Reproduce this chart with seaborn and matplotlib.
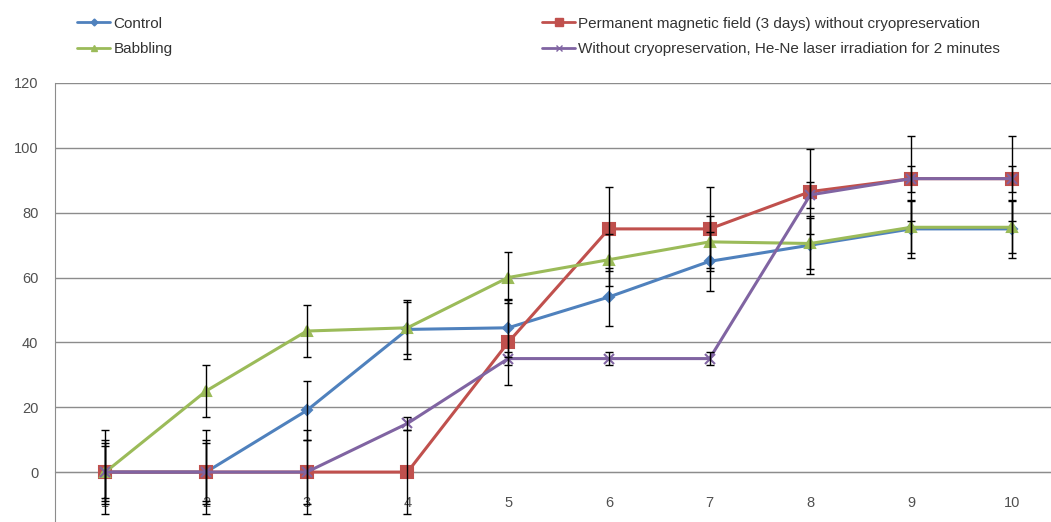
import numpy as np
import pandas as pd
import matplotlib.pyplot as plt
import seaborn as sns
from matplotlib.lines import Line2D

# Data
days = [1, 2, 3, 4, 5, 6, 7, 8, 9, 10]

control = [0, 0, 19, 44, 44.5, 54, 65, 70, 75, 75]
control_err = [9, 9, 9, 9, 9, 9, 9, 9, 9, 9]

magnetic = [0, 0, 0, 0, 40, 75, 75, 86.5, 90.5, 90.5]
magnetic_err = [13, 13, 13, 13, 13, 13, 13, 13, 13, 13]

babbling = [0, 25, 43.5, 44.5, 60, 65.5, 71, 70.5, 75.5, 75.5]
babbling_err = [8, 8, 8, 8, 8, 8, 8, 8, 8, 8]

laser = [0, 0, 0, 15, 35, 35, 35, 85.5, 90.5, 90.5]
laser_err = [10, 10, 10, 2, 2, 2, 2, 4, 4, 4]

labels = [
    "Control",
    "Permanent magnetic field (3 days) without cryopreservation",
    "Babbling",
    "Without cryopreservation, He-Ne laser irradiation for 2 minutes",
]

series = [
    (labels[0], control, control_err, "#4F81BD", "D", 5),
    (labels[1], magnetic, magnetic_err, "#C0504D", "s", 8),
    (labels[2], babbling, babbling_err, "#9BBB59", "^", 7),
    (labels[3], laser, laser_err, "#8064A2", "x", 7),
]

sns.set_style("white")
plt.rcParams["font.family"] = ["Liberation Sans", "DejaVu Sans"]

fig = plt.figure(figsize=(10.51, 5.22), dpi=100)
ax = fig.add_axes([55 / 1051, 0.0, 1 - 55 / 1051, (522 - 83) / 522])

for name, vals, errs, color, marker, ms in series:
    df = pd.DataFrame({"day": days, "value": vals})
    sns.lineplot(
        data=df, x="day", y="value", ax=ax,
        color=color, marker=marker, markersize=ms,
        markeredgecolor=color, markeredgewidth=1.5,
        linewidth=2.2, zorder=3,
    )
    ax.errorbar(
        days, vals, yerr=errs, fmt="none",
        ecolor="black", elinewidth=1, capsize=3, capthick=1, zorder=4,
    )

ax.set_xlim(0.5, 10.39)
ax.set_ylim(-15.4, 120)

ax.set_yticks(range(0, 121, 20))
ax.yaxis.grid(True, color="#8c8c8c", linewidth=1)
ax.xaxis.grid(False)

ax.set_xticks(days)
ax.set_xticklabels([str(d) for d in days])
ax.set_xticks(np.arange(1.5, 10.0, 1.0), minor=True)
ax.tick_params(axis="x", which="major", length=0, pad=17, labelsize=10.5, labelcolor="#505050")
ax.tick_params(axis="x", which="minor", length=4, width=1, color="#8c8c8c", direction="out")
ax.tick_params(axis="y", length=0, pad=12, labelsize=10.5, labelcolor="#505050")

ax.spines["bottom"].set_position(("data", 0))
ax.spines["bottom"].set_color("#8c8c8c")
ax.spines["left"].set_color("#8c8c8c")
ax.spines["top"].set_visible(False)
ax.spines["right"].set_visible(False)
ax.set_xlabel("")
ax.set_ylabel("")

handles = [
    Line2D([0], [0], color=c, marker=m, markersize=ms * 0.7, markeredgecolor=c,
           linewidth=2) for _, _, _, c, m, ms in series
]

legend_kw = dict(
    loc="upper left", frameon=False, fontsize=11, handlelength=2.2,
    handletextpad=0.2, labelspacing=0.75, labelcolor="#333333",
)
fig.legend([handles[0], handles[2]], [labels[0], labels[2]],
           bbox_to_anchor=(63 / 1051, 1 - 3 / 522), **legend_kw)
fig.legend([handles[1], handles[3]], [labels[1], labels[3]],
           bbox_to_anchor=(528 / 1051, 1 - 3 / 522), **legend_kw)

plt.savefig("out.png", dpi=100)
